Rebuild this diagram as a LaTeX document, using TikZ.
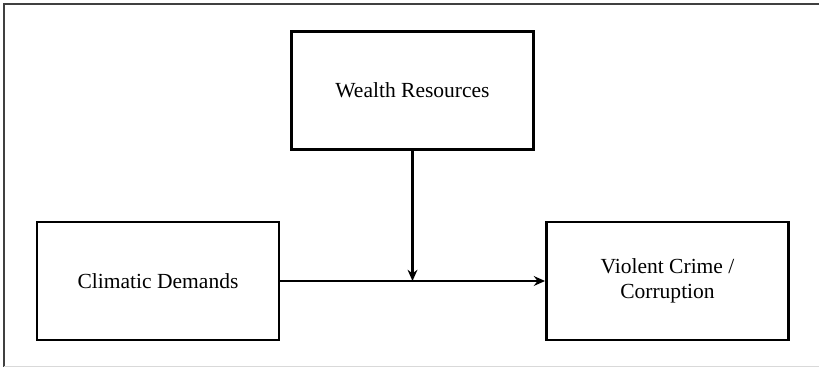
\documentclass[tikz,border=0pt]{standalone}
\usepackage{fontspec}
\setmainfont{Liberation Serif}
\usepackage{tikz}
\usetikzlibrary{positioning, arrows.meta}
\tikzstyle{block} = [rectangle, draw, line width=2pt, fill=white,
                 minimum width=6.05cm, minimum height=2.95cm, align=center,
                 font=\fontsize{15.3}{18}\selectfont]
\tikzset{
	link/.style={line width=1.6pt, -{Stealth[length=8pt, width=7pt]}},
	frame/.style={line width=0.9pt, draw=black!75},
}

\begin{document}
\begin{tikzpicture}[x=0.025cm, y=-0.025cm]

\useasboundingbox (0,0) rectangle (819,368);
	%outer frame
\draw [frame] (819,4) -- (4,4) -- (4,367);
\draw [frame, draw=black!15] (4,366.5) -- (819,366.5);

\node [block] at (412.5,90.5) (wealth) {Wealth Resources};
\node [block] at (158,281) (climatic) {Climatic Demands};
\node [block] at (667.5,281) (crime) {Violent Crime /\\Corruption};

\coordinate (meet) at (wealth.south |- climatic.east);

\draw [link] (climatic.east) -- (crime.west);
\draw [link] (wealth.south) -- (meet);

\end{tikzpicture}
\end{document}
